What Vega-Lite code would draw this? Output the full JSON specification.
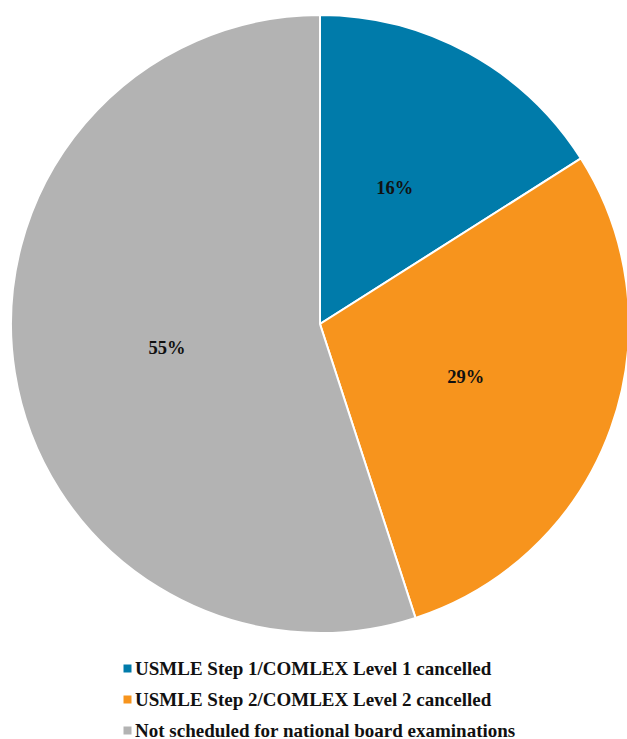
{
  "$schema": "https://vega.github.io/schema/vega-lite/v6.json",
  "width": 640,
  "height": 648,
  "padding": {"top": 0, "left": 0, "right": 0, "bottom": 91},
  "autosize": "none",
  "background": "white",
  "data": {
    "values": [
      {"category": "USMLE Step 1/COMLEX Level 1 cancelled", "value": 16, "order": 1, "label": "16%"},
      {"category": "USMLE Step 2/COMLEX Level 2 cancelled", "value": 29, "order": 2, "label": "29%"},
      {"category": "Not scheduled for national board examinations", "value": 55, "order": 3, "label": "55%"}
    ]
  },
  "encoding": {
    "theta": {"field": "value", "type": "quantitative", "stack": true},
    "order": {"field": "order", "type": "quantitative"}
  },
  "layer": [
    {
      "mark": {"type": "arc", "radius": 309, "stroke": "white", "strokeWidth": 2},
      "encoding": {
        "color": {
          "field": "category",
          "type": "nominal",
          "scale": {
            "domain": ["USMLE Step 1/COMLEX Level 1 cancelled", "USMLE Step 2/COMLEX Level 2 cancelled", "Not scheduled for national board examinations"],
            "range": ["#007BAA", "#F7941D", "#B3B3B3"]
          },
          "legend": {
            "title": null,
            "orient": "none",
            "legendX": 118,
            "legendY": 659,
            "direction": "vertical",
            "symbolType": "square",
            "symbolSize": 64,
            "symbolStrokeWidth": 0,
            "labelFont": "Times New Roman, Liberation Serif, serif",
            "labelFontSize": 19,
            "labelFontWeight": "bold",
            "labelColor": "#111111",
            "labelLimit": 600,
            "rowPadding": 11,
            "labelOffset": -2
          }
        }
      }
    },
    {
      "mark": {"type": "text", "radius": 155, "font": "Times New Roman, Liberation Serif, serif", "fontSize": 18.5, "fontWeight": "bold", "color": "#111111"},
      "encoding": {
        "text": {"field": "label", "type": "nominal"}
      }
    }
  ]
}
